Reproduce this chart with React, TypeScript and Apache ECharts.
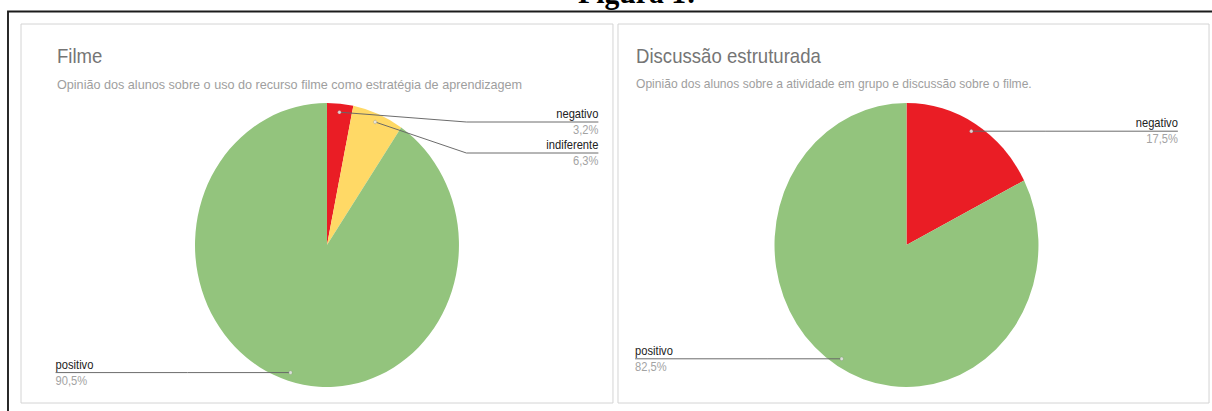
import React, { useEffect, useRef } from "react";
import * as echarts from "echarts";

// ---------- data ----------
const figureTitle = "Figura 1:";
const chartTitles = ["Filme", "Discussão estruturada"];
const chartSubtitles = [
  "Opinião dos alunos sobre o uso do recurso filme como estratégia de aprendizagem",
  "Opinião dos alunos sobre a atividade em grupo e discussão sobre o filme.",
];
const filmeCategories = ["negativo", "indiferente", "positivo"];
const filmeValues = [3.2, 6.3, 90.5];
const discussaoCategories = ["negativo", "positivo"];
const discussaoValues = [17.5, 82.5];
const categoryColors: Record<string, string> = {
  negativo: "#ea1d25",
  indiferente: "#ffd966",
  positivo: "#93c47d",
};

// ---------- layout / style ----------
const W = 1304;
const H = 411;
const SCALE_X = 1212 / W; // the reference figure is horizontally condensed
const SANS = 'Arial, "Liberation Sans", sans-serif';
const SERIF = '"Times New Roman", "Liberation Serif", serif';
const R = 142;
const CY = 245;
const CENTERS_X = [351.8, 975.3];
const SUBTITLE_SIZES = [13.6, 13];
const DOT_K = 0.94;
const LABEL_OFFSET = 292;
const BEND_OFFSET = 150;
const LABEL_TOP = 122;
const LABEL_GAP = 31;

type LabelInfo = { right: boolean; x: number; y: number; dot: number[]; points: number[][] };

function computeLabels(values: number[], cx: number, cy: number, r: number): LabelInfo[] {
  const total = values.reduce((a, b) => a + b, 0);
  let acc = 0;
  const items = values.map((v, i) => {
    const mid = (acc + v / 2) / total;
    acc += v;
    const th = mid * 2 * Math.PI;
    const dx = Math.sin(th);
    const dy = -Math.cos(th);
    return { i, th, right: dx >= 0, dot: [cx + DOT_K * r * dx, cy + DOT_K * r * dy] };
  });
  const out: LabelInfo[] = [];
  const place = (list: typeof items, right: boolean) => {
    let prev = -Infinity;
    for (const it of list) {
      const y = Math.max(it.dot[1], LABEL_TOP, prev + LABEL_GAP);
      prev = y;
      const x = right ? cx + LABEL_OFFSET : cx - LABEL_OFFSET;
      const bx = right ? cx + BEND_OFFSET : cx - BEND_OFFSET;
      out[it.i] = { right, x, y, dot: it.dot, points: [it.dot, [bx, y], [x, y]] };
    }
  };
  place(items.filter((d) => d.right).sort((a, b) => a.th - b.th), true);
  place(items.filter((d) => !d.right).sort((a, b) => b.th - a.th), false);
  return out;
}

const fmtPct = (v: number) => v.toFixed(1).replace(".", ",") + "%";

const commonPie = (cx: number) => ({
  type: "pie",
  center: [cx, CY],
  radius: R,
  startAngle: 90,
  clockwise: true,
  avoidLabelOverlap: false,
  silent: true,
  animation: false,
  emphasis: { disabled: true },
});

// sectors only
function pieFill(categories: string[], values: number[], cx: number) {
  return {
    ...commonPie(cx),
    z: 2,
    itemStyle: { borderWidth: 0 },
    label: { show: false },
    labelLine: { show: false },
    data: categories.map((c, i) => ({
      name: c,
      value: values[i],
      itemStyle: { color: categoryColors[c] },
    })),
  };
}

// transparent overlay that carries labels + leader lines above all sectors
function pieLabels(categories: string[], values: number[], cx: number, labels: LabelInfo[]) {
  const base = { fontFamily: SANS, fontSize: 12, lineHeight: 16 };
  return {
    ...commonPie(cx),
    z: 3,
    itemStyle: { color: "rgba(0,0,0,0)", borderWidth: 0 },
    data: categories.map((c, i) => ({ name: c, value: values[i] })),
    label: {
      show: true,
      position: "outside",
      lineHeight: 16,
      formatter: (p: any) => {
        const s = labels[p.dataIndex].right ? "R" : "L";
        return `{n${s}|${p.name}}\n{p${s}|${fmtPct(p.value)}}`;
      },
      rich: {
        nR: { ...base, color: "#222222", align: "right" },
        pR: { ...base, color: "#a3a3a3", align: "right" },
        nL: { ...base, color: "#222222", align: "left" },
        pL: { ...base, color: "#a3a3a3", align: "left" },
      },
    },
    labelLine: {
      show: true,
      length: 10,
      length2: 10,
      smooth: false,
      lineStyle: { color: "#666666", width: 1 },
    },
    labelLayout: (params: any) => {
      const l = labels[params.dataIndex];
      return {
        x: l.x,
        y: l.y,
        align: l.right ? "right" : "left",
        verticalAlign: "middle",
        labelLinePoints: l.points,
      };
    },
  };
}

function titleBlock(i: number, left: number) {
  return {
    text: chartTitles[i],
    subtext: chartSubtitles[i],
    left,
    top: 46.6,
    padding: 0,
    itemGap: 11,
    textStyle: { fontFamily: SANS, fontSize: 20, lineHeight: 20, color: "#757575", fontWeight: "normal" },
    subtextStyle: {
      fontFamily: SANS,
      fontSize: SUBTITLE_SIZES[i],
      lineHeight: SUBTITLE_SIZES[i],
      color: "#9e9e9e",
    },
  };
}

export default function App() {
  const ref = useRef<HTMLDivElement>(null);
  useEffect(() => {
    if (!ref.current) return;
    const chart = echarts.init(ref.current, undefined, { renderer: "svg", width: W, height: H });
    const labelsA = computeLabels(filmeValues, CENTERS_X[0], CY, R);
    const labelsB = computeLabels(discussaoValues, CENTERS_X[1], CY, R);
    const dots = [...labelsA, ...labelsB].map((l) => ({
      type: "circle",
      silent: true,
      z: 100,
      shape: { cx: l.dot[0], cy: l.dot[1], r: 1.8 },
      style: { fill: "rgba(235,235,235,0.85)", stroke: "rgba(120,120,120,0.6)", lineWidth: 0.5 },
    }));
    chart.setOption({
      animation: false,
      backgroundColor: "#ffffff",
      title: [titleBlock(0, 61.3), titleBlock(1, 684.3)],
      graphic: [
        {
          type: "rect",
          silent: true,
          shape: { x: 8.6, y: 11.5, width: 1400, height: 500 },
          style: { fill: "none", stroke: "#1b1b1b", lineWidth: 2 },
        },
        {
          type: "rect",
          silent: true,
          shape: { x: 22.6, y: 24, width: 636.9, height: 379 },
          style: { fill: "none", stroke: "#d2d2d2", lineWidth: 1 },
        },
        {
          type: "rect",
          silent: true,
          shape: { x: 664.9, y: 24, width: 635.9, height: 379 },
          style: { fill: "none", stroke: "#d2d2d2", lineWidth: 1 },
        },
        {
          type: "text",
          silent: true,
          x: 621.9,
          y: -7.5,
          style: {
            text: figureTitle,
            fontFamily: SERIF,
            fontWeight: "bold",
            fontSize: 32,
            fill: "#000000",
            align: "left",
            verticalAlign: "middle",
          },
        },
        ...dots,
      ],
      series: [
        pieFill(filmeCategories, filmeValues, CENTERS_X[0]),
        pieFill(discussaoCategories, discussaoValues, CENTERS_X[1]),
        pieLabels(filmeCategories, filmeValues, CENTERS_X[0], labelsA),
        pieLabels(discussaoCategories, discussaoValues, CENTERS_X[1], labelsB),
      ],
    });
    return () => chart.dispose();
  }, []);
  return (
    <div
      ref={ref}
      style={{
        position: "fixed",
        left: 0,
        top: 0,
        width: W,
        height: H,
        transform: `scaleX(${SCALE_X})`,
        transformOrigin: "0 0",
        background: "#ffffff",
      }}
    />
  );
}
